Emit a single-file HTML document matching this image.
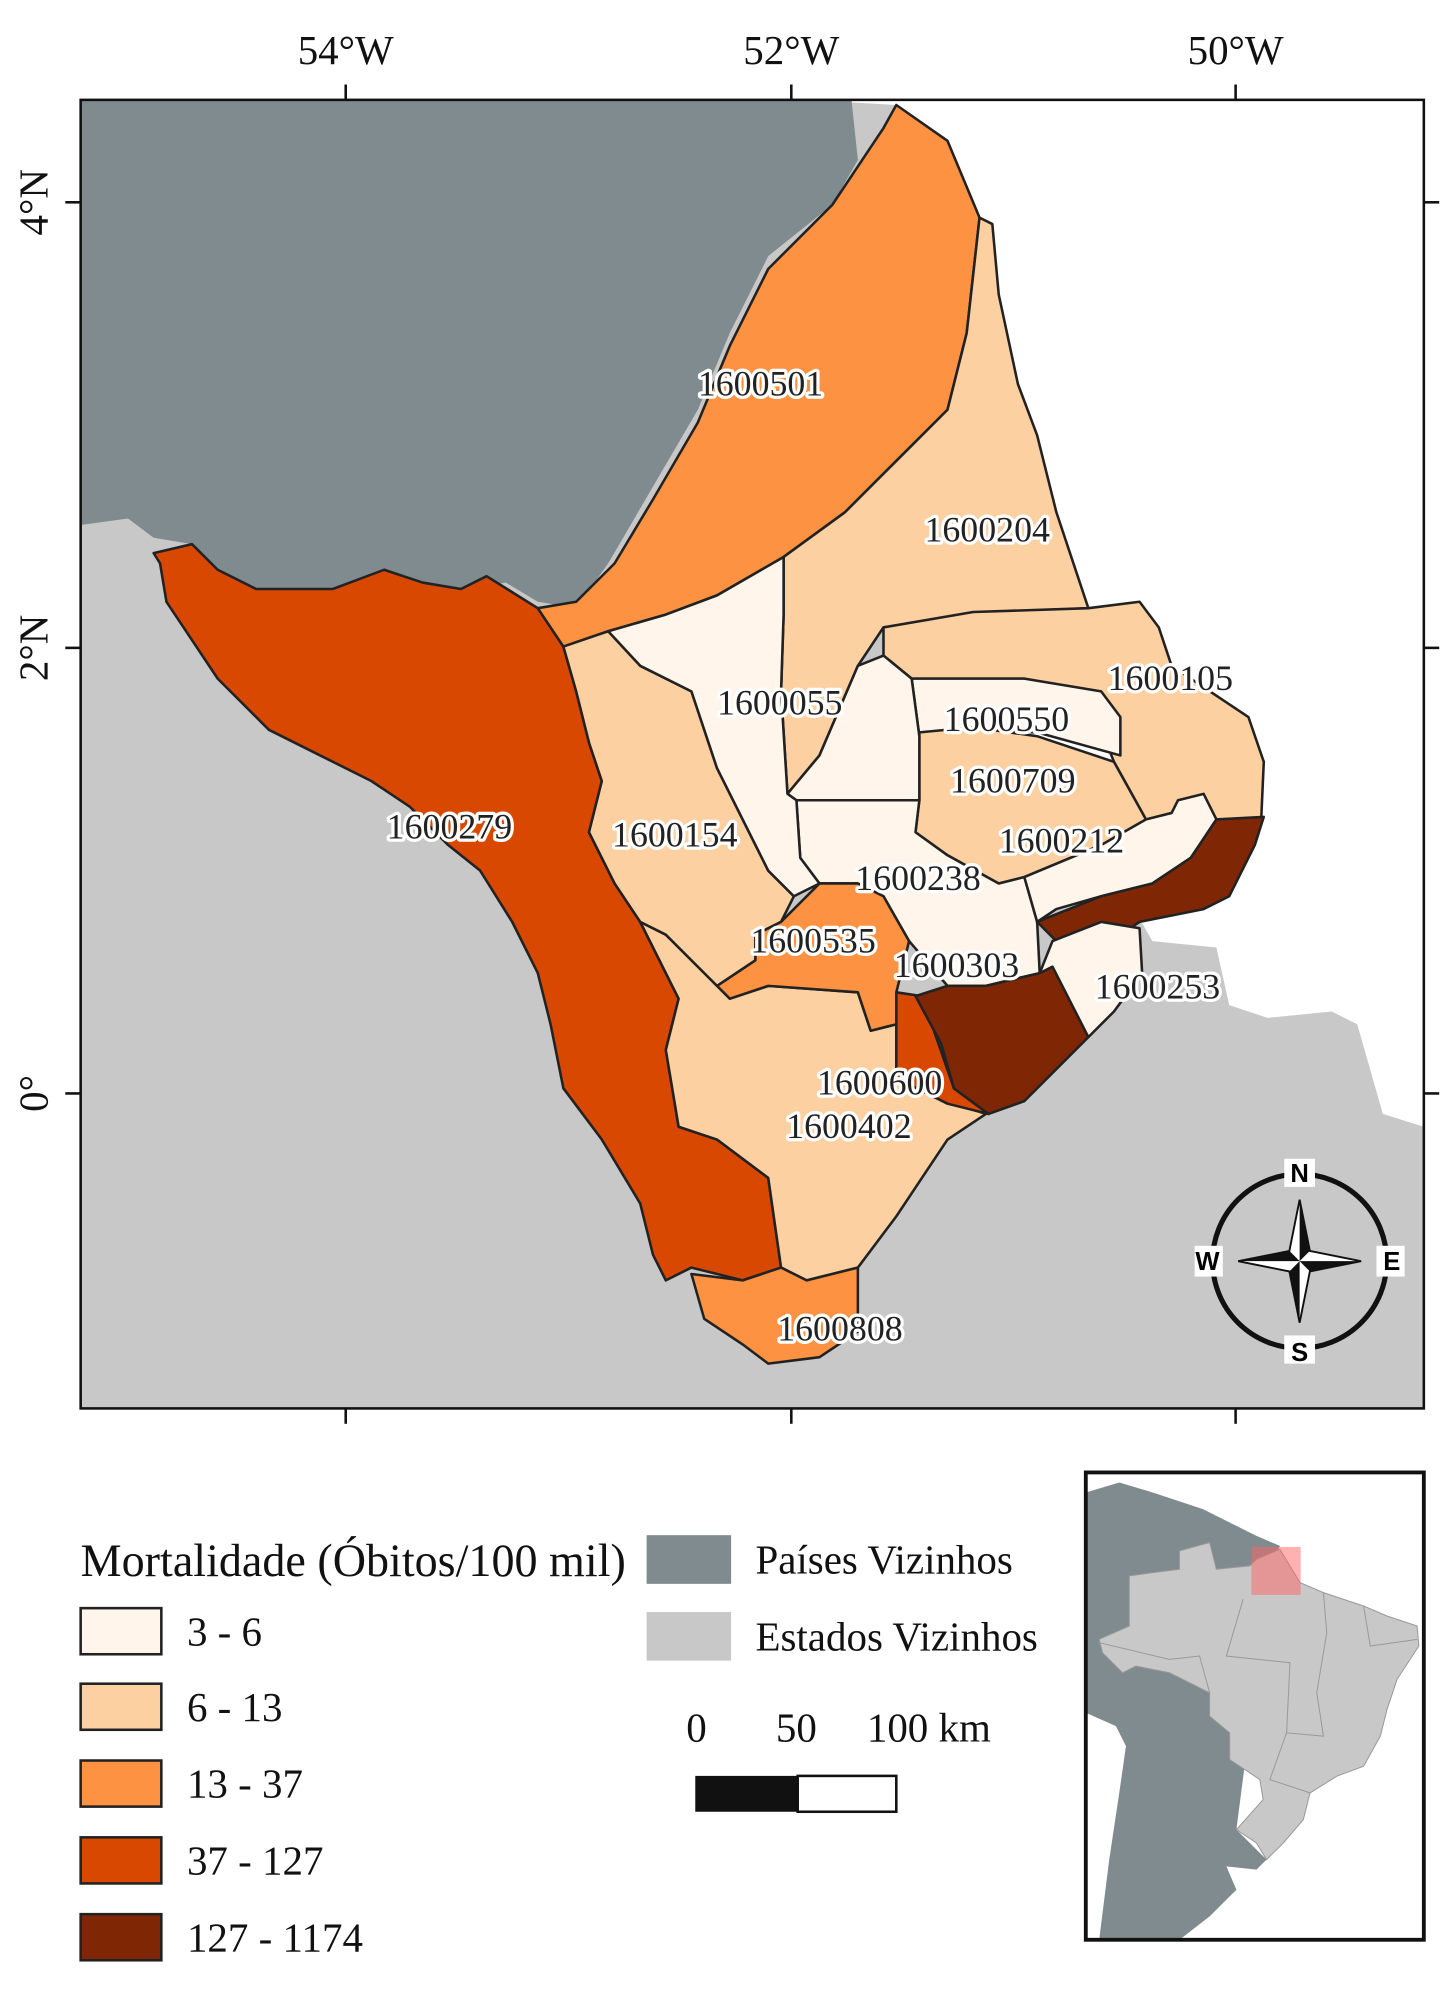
<!DOCTYPE html>
<html><head><meta charset="utf-8"><style>
html,body{margin:0;padding:0;background:#fff}
svg{display:block}
text{font-family:"Liberation Serif",serif}
.lbl{font-size:28px;fill:#222;stroke:#fff;stroke-width:5px;paint-order:stroke;stroke-linejoin:round}
.m{stroke:#222;stroke-width:2;stroke-linejoin:round}
.cp{font-family:"Liberation Sans",sans-serif;font-weight:bold;font-size:20px}
</style></head><body>
<svg width="1452" height="2007" viewBox="0 0 1134 1567.5" preserveAspectRatio="none">
<defs><clipPath id="fr"><rect x="63" y="78" width="1049" height="1022"/></clipPath></defs>
<g clip-path="url(#fr)">
<rect x="63" y="78" width="1049" height="1022" fill="#c8c8c8"/>
<path d="M630,78 L1112,78 L1112,880 L1080,870 L1060,800 L1040,790 L990,795 L960,785 L950,740 L900,735 L880,700 L820,640 L760,300 L700,82 Z" fill="#fff"/>
<path d="M63,78 L665,78 L670,125 L650,160 L600,200 L570,260 L545,320 L510,380 L475,440 L450,475 L420,470 L395,455 L360,460 L330,455 L300,445 L260,460 L200,460 L170,445 L150,425 L120,420 L100,405 L63,410 Z" fill="#7f8b8f"/>
<path class="m" fill="#d94801" d="M120,432 L150,425 L170,445 L200,460 L260,460 L300,445 L330,455 L360,460 L380,450 L420,475 L440,505 L450,540 L460,580 L470,610 L460,650 L480,690 L500,720 L530,780 L520,820 L530,880 L560,890 L600,920 L610,990 L580,1000 L540,990 L520,1000 L510,980 L500,940 L470,890 L440,850 L430,800 L420,760 L400,720 L375,680 L350,660 L320,630 L290,610 L250,590 L210,570 L170,530 L130,470 L125,440 Z"/>
<path class="m" fill="#fd9243" d="M700,82 L740,110 L765,170 L755,260 L740,320 L700,360 L660,400 L612,435 L560,465 L520,480 L475,493 L440,505 L420,475 L450,470 L480,440 L510,390 L545,330 L570,270 L600,210 L650,160 L670,130 L690,100 Z"/>
<path class="m" fill="#fdd0a2" d="M765,170 L775,175 L780,230 L795,300 L810,340 L825,400 L835,430 L850,475 L760,480 L690,490 L670,520 L640,590 L615,620 L610,540 L612,480 L612,435 L660,400 L700,360 L740,320 L755,260 Z"/>
<path class="m" fill="#fdd0a2" d="M690,490 L760,478 L850,475 L890,470 L905,490 L915,520 L975,560 L987,595 L985,640 L950,640 L940,625 L915,635 L895,640 L870,595 L860,570 L800,530 L760,530 L712,530 L690,512 Z"/>
<path class="m" fill="#fff5eb" d="M712,530 L760,530 L800,530 L860,540 L875,560 L875,590 L810,572 L760,570 L718,575 Z"/>
<path class="m" fill="#fdd0a2" d="M718,572 L760,568 L810,575 L870,595 L895,640 L860,660 L800,685 L780,690 L740,668 L715,650 L718,625 Z"/>
<path class="m" fill="#fff5eb" d="M690,512 L712,530 L718,575 L718,625 L622,625 L615,620 L640,590 L670,520 Z"/>
<path class="m" fill="#fff5eb" d="M622,625 L718,625 L715,650 L740,668 L780,690 L800,685 L810,720 L812,760 L770,770 L740,770 L710,735 L690,700 L670,690 L640,690 L625,670 Z"/>
<path class="m" fill="#fff5eb" d="M800,685 L860,660 L895,640 L915,635 L920,625 L940,620 L950,640 L930,670 L900,690 L860,700 L825,710 L810,720 Z"/>
<path class="m" fill="#7f2704" d="M810,720 L860,700 L900,690 L930,670 L950,640 L987,638 L980,660 L960,700 L940,710 L890,720 L860,740 L840,750 L820,730 Z"/>
<path class="m" fill="#fff5eb" d="M822,735 L860,720 L890,725 L892,760 L870,790 L850,810 L830,790 L812,760 Z"/>
<path class="m" fill="#fdd0a2" d="M500,720 L520,730 L560,770 L570,780 L600,770 L670,775 L680,805 L700,800 L700,840 L740,860 L770,870 L740,890 L720,920 L700,950 L670,990 L630,1000 L610,990 L600,920 L560,890 L530,880 L520,820 L530,780 Z"/>
<path class="m" fill="#d94801" d="M700,775 L720,778 L745,850 L772,870 L740,862 L700,842 L700,810 Z"/>
<path class="m" fill="#7f2704" d="M715,778 L740,770 L770,770 L812,760 L822,755 L850,810 L830,830 L800,860 L772,870 L745,850 L735,815 Z"/>
<path class="m" fill="#fdd0a2" d="M440,505 L475,493 L500,520 L540,540 L560,600 L600,680 L620,700 L610,720 L590,730 L590,750 L560,770 L520,730 L500,720 L480,690 L460,650 L470,610 L460,580 L450,540 Z"/>
<path class="m" fill="#fff5eb" d="M475,493 L520,480 L560,465 L612,435 L612,480 L610,540 L615,620 L622,625 L625,670 L640,690 L620,700 L600,680 L560,600 L540,540 L500,520 Z"/>
<path class="m" fill="#fd9243" d="M590,730 L610,720 L640,690 L670,690 L690,700 L710,735 L700,775 L700,800 L680,805 L670,775 L600,770 L570,780 L560,770 L590,750 Z"/>
<path class="m" fill="#fd9243" d="M540,995 L580,1000 L610,990 L630,1000 L670,990 L670,1040 L640,1060 L600,1065 L580,1050 L550,1030 Z"/>
<g>
<text class="lbl" x="545" y="309">1600501</text>
<text class="lbl" x="722" y="423">1600204</text>
<text class="lbl" x="865" y="539">1600105</text>
<text class="lbl" x="560" y="558">1600055</text>
<text class="lbl" x="737" y="571">1600550</text>
<text class="lbl" x="742" y="619">1600709</text>
<text class="lbl" x="302" y="655">1600279</text>
<text class="lbl" x="478" y="661">1600154</text>
<text class="lbl" x="780" y="666">1600212</text>
<text class="lbl" x="668" y="695">1600238</text>
<text class="lbl" x="586" y="744">1600535</text>
<text class="lbl" x="698" y="763">1600303</text>
<text class="lbl" x="855" y="780">1600253</text>
<text class="lbl" x="638" y="855">1600600</text>
<text class="lbl" x="614" y="889">1600402</text>
<text class="lbl" x="607" y="1047">1600808</text>
</g>
<g transform="translate(1015,985)">
<circle r="68" fill="none" stroke="#111" stroke-width="4"/>
<rect x="-12" y="-80" width="24" height="22" fill="#fff"/><rect x="-12" y="58" width="24" height="22" fill="#fff"/>
<rect x="-82" y="-12" width="22" height="24" fill="#fff"/><rect x="60" y="-12" width="22" height="24" fill="#fff"/>
<path d="M0,-48 L8,-8 L48,0 L8,8 L0,48 L-8,8 L-48,0 L-8,-8 Z" fill="#fff" stroke="#111" stroke-width="1.5"/>
<path d="M0,-48 L8,-8 L0,0 Z M48,0 L8,8 L0,0 Z M0,48 L-8,8 L0,0 Z M-48,0 L-8,-8 L0,0 Z" fill="#111"/>
<text class="cp" x="0" y="-62" text-anchor="middle">N</text>
<text class="cp" x="0" y="78" text-anchor="middle">S</text>
<text class="cp" x="-72" y="7" text-anchor="middle">W</text>
<text class="cp" x="72" y="7" text-anchor="middle">E</text>
</g>
</g>
<rect x="63" y="78" width="1049" height="1022" fill="none" stroke="#111" stroke-width="2"/>
<g stroke="#111" stroke-width="2">
<line x1="270" y1="66" x2="270" y2="78"/><line x1="618" y1="66" x2="618" y2="78"/><line x1="965" y1="66" x2="965" y2="78"/>
<line x1="270" y1="1100" x2="270" y2="1112"/><line x1="618" y1="1100" x2="618" y2="1112"/><line x1="965" y1="1100" x2="965" y2="1112"/>
<line x1="51" y1="158" x2="63" y2="158"/><line x1="51" y1="506" x2="63" y2="506"/><line x1="51" y1="854" x2="63" y2="854"/>
<line x1="1112" y1="158" x2="1124" y2="158"/><line x1="1112" y1="506" x2="1124" y2="506"/><line x1="1112" y1="854" x2="1124" y2="854"/>
</g>
<g font-size="32" fill="#111">
<text x="270" y="50" text-anchor="middle">54°W</text>
<text x="618" y="50" text-anchor="middle">52°W</text>
<text x="965" y="50" text-anchor="middle">50°W</text>
<text transform="translate(37,158) rotate(-90)" text-anchor="middle">4°N</text>
<text transform="translate(37,506) rotate(-90)" text-anchor="middle">2°N</text>
<text transform="translate(37,854) rotate(-90)" text-anchor="middle">0°</text>
</g>
<g font-size="32" fill="#111">
<text x="63" y="1231" font-size="36">Mortalidade (Óbitos/100 mil)</text>
<g stroke="#222" stroke-width="2">
<rect x="63" y="1256" width="63" height="36" fill="#fff5eb"/>
<rect x="63" y="1315" width="63" height="36" fill="#fdd0a2"/>
<rect x="63" y="1375" width="63" height="36" fill="#fd9243"/>
<rect x="63" y="1435" width="63" height="36" fill="#d94801"/>
<rect x="63" y="1495" width="63" height="36" fill="#7f2704"/>
</g>
<text x="146" y="1285">3 - 6</text>
<text x="146" y="1344">6 - 13</text>
<text x="146" y="1404">13 - 37</text>
<text x="146" y="1464">37 - 127</text>
<text x="146" y="1524">127 - 1174</text>
<rect x="505" y="1199" width="66" height="38" fill="#7f8b8f"/>
<rect x="505" y="1259" width="66" height="38" fill="#c8c8c8"/>
<text x="590" y="1229">Países Vizinhos</text>
<text x="590" y="1289">Estados Vizinhos</text>
</g>
<g font-size="32" fill="#111">
<text x="544" y="1360" text-anchor="middle">0</text>
<text x="622" y="1360" text-anchor="middle">50</text>
<text x="677" y="1360">100 km</text>
<rect x="543" y="1387" width="80" height="28" fill="#111"/>
<rect x="623" y="1387" width="77" height="28" fill="#fff" stroke="#111" stroke-width="2"/>
</g>
<g>
<svg x="848" y="1150" width="264" height="365" viewBox="50 40 1010 1400" preserveAspectRatio="none">
<rect x="50" y="40" width="1010" height="1400" fill="#fff"/>
<path d="M50,100 L150,70 L250,100 L400,150 L560,230 L630,260 L600,330 L500,1110 L590,1200 L560,1230 L470,1220 L500,1290 L420,1370 L330,1440 L50,1440 Z" fill="#7f8b8f"/>
<path d="M50,760 L140,800 L170,860 L150,1000 L120,1200 L90,1440 L50,1440 Z" fill="#fff"/>
<path d="M330,275 L420,250 L440,330 L540,320 L560,300 L630,270 L690,370 L760,400 L880,440 L950,470 L1040,500 L1045,560 L980,660 L950,750 L930,830 L880,920 L800,950 L720,1000 L700,1080 L640,1150 L590,1200 L560,1150 L500,1110 L580,1020 L570,960 L480,900 L480,820 L420,770 L420,700 L300,640 L200,620 L160,640 L100,580 L90,540 L180,500 L180,350 L250,340 L330,330 Z" fill="#c8c8c8" stroke="#999" stroke-width="3"/>
<g fill="none" stroke="#999" stroke-width="3">
<path d="M520,420 L470,590 L660,610 L650,820 L760,830 L740,700 L770,520 L760,400"/>
<path d="M90,550 L300,600 L390,590 L420,700"/>
<path d="M650,820 L600,960 L720,1000"/>
<path d="M880,440 L900,560 L1040,540"/>
</g>
<rect x="545" y="263" width="147" height="144" fill="#ff6464" fill-opacity="0.5"/>
</svg>
<rect x="848" y="1150" width="264" height="365" fill="none" stroke="#111" stroke-width="3"/>
</g>
</svg>
</body></html>
